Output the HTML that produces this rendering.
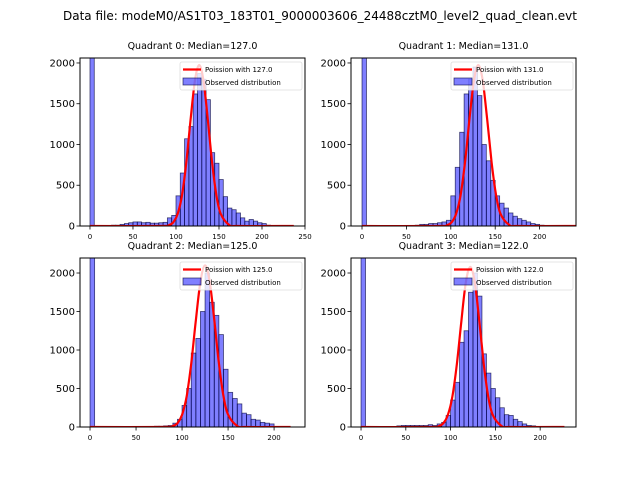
<!DOCTYPE html>
<html><head><meta charset="utf-8"><style>
body{margin:0;background:#fff}
svg text{font-family:"DejaVu Sans","Liberation Sans",sans-serif}
</style></head><body>
<svg id="fig" width="640" height="480" viewBox="0 0 640 480" xmlns="http://www.w3.org/2000/svg">
<rect width="640" height="480" fill="#fff"/>
<text x="320" y="20" font-size="12" text-anchor="middle">Data file: modeM0/AS1T03_183T01_9000003606_24488cztM0_level2_quad_clean.evt</text>
</svg>
<script>
// bin starts (width 5) and heights per quadrant
const binStarts = [0,5,10,15,20,25,30,35,40,45,50,55,60,65,70,75,80,85,90,95,100,105,110,115,120,125,130,135,140,145,150,155,160,165,170,175,180,185,190,195,200,205];
const q0Counts = [6000,0,0,0,0,10,10,20,30,40,50,50,40,45,35,35,40,45,100,130,370,650,1070,1220,1620,1870,1800,1550,900,770,570,360,220,200,160,100,60,80,60,40,30,10];
const q1Counts = [6000,0,0,0,0,0,0,0,0,0,0,0,10,20,20,30,30,40,50,70,370,720,1150,1620,1800,1950,1600,1000,800,560,370,280,220,160,120,90,70,50,30,20,10,0];
const q2Counts = [6000,0,0,0,0,0,0,0,0,0,0,0,0,0,10,10,15,20,50,100,280,500,960,1150,1500,2000,1620,1450,1200,750,450,370,300,180,160,100,90,60,50,40,0,0];
const q3Counts = [6000,0,0,0,0,0,0,0,15,20,20,20,20,20,20,30,20,40,60,150,350,580,1100,1250,1750,2000,1700,950,700,500,380,250,160,150,100,70,40,20,15,0,0,0];
// Poisson curve samples (x values and heights)
const q0CurveX = [0,82,92,97,102,107,112,117,122,127,132,137,142,147,152,162,172,237];
const q0CurveY = [0,0,12,47,150,377,780,1307,1781,1975,1781,1307,780,377,150,12,0,0];
const q1CurveX = [0,86,96,101,106,111,116,121,126,131,136,141,146,151,156,166,176,243];
const q1CurveY = [0,0,12,47,150,377,780,1307,1781,1975,1781,1307,780,377,150,12,0,0];
const q2CurveX = [0,80,90,95,100,105,110,115,120,125,130,135,140,145,150,160,170,218];
const q2CurveY = [0,0,13,50,160,400,830,1390,1890,2100,1890,1390,830,400,160,13,0,0];
const q3CurveX = [0,77,87,92,97,102,107,112,117,122,127,132,137,142,147,157,167,227];
const q3CurveY = [0,0,12,50,158,397,822,1377,1876,2080,1876,1377,822,397,158,12,0,0];
const xTicks0 = [0,50,100,150,200,250];
const xTicks = [0,50,100,150,200];
const yTicks = [0,500,1000,1500,2000];
const titles = ["Quadrant 0: Median=127.0","Quadrant 1: Median=131.0","Quadrant 2: Median=125.0","Quadrant 3: Median=122.0"];
const lambdas = ["127.0","131.0","125.0","122.0"];

const NS="http://www.w3.org/2000/svg";
const svg=document.getElementById('fig');
function mk(tag,attrs,parent){const e=document.createElementNS(NS,tag);for(const k in attrs)e.setAttribute(k,attrs[k]);(parent||svg).appendChild(e);return e;}
function smooth(P){
 let d='M'+P[0][0].toFixed(1)+','+P[0][1].toFixed(1);
 for(let i=0;i<P.length-1;i++){
  const p0=P[Math.max(0,i-1)],p1=P[i],p2=P[i+1],p3=P[Math.min(P.length-1,i+2)];
  const c1=[p1[0]+(p2[0]-p0[0])/6,p1[1]+(p2[1]-p0[1])/6];
  const c2=[p2[0]-(p3[0]-p1[0])/6,p2[1]-(p3[1]-p1[1])/6];
  d+=' C'+c1[0].toFixed(1)+','+c1[1].toFixed(1)+' '+c2[0].toFixed(1)+','+c2[1].toFixed(1)+' '+p2[0].toFixed(1)+','+p2[1].toFixed(1);
 }
 return d;
}

const panels=[
 {x0:80,x1:305,y0:58,y1:226,xmin:-11.6,xmax:250,ymax:2061,counts:q0Counts,cx:q0CurveX,cy:q0CurveY,xt:xTicks0},
 {x0:351,x1:576,y0:58,y1:226,xmin:-12.4,xmax:241,ymax:2061,counts:q1Counts,cx:q1CurveX,cy:q1CurveY,xt:xTicks},
 {x0:80,x1:305,y0:258,y1:427,xmin:-10.9,xmax:233.6,ymax:2195,counts:q2Counts,cx:q2CurveX,cy:q2CurveY,xt:xTicks},
 {x0:351,x1:576,y0:258,y1:427,xmin:-11.2,xmax:240,ymax:2195,counts:q3Counts,cx:q3CurveX,cy:q3CurveY,xt:xTicks}
];
panels.forEach((p,i)=>{
 const g=mk('g',{});
 
 
 const cid='clip'+i;
 const cp=mk('clipPath',{id:cid},g);mk('rect',{x:p.x0,y:p.y0,width:p.x1-p.x0,height:p.y1-p.y0},cp);
 const sx=v=>p.x0+(v-p.xmin)/(p.xmax-p.xmin)*(p.x1-p.x0);
 const sy=v=>p.y1-v/p.ymax*(p.y1-p.y0);
 const bars=mk('g',{'clip-path':'url(#'+cid+')'},g);
 binStarts.forEach((b,j)=>{
  const h=p.counts[j]; if(!h) return;
  const r=mk('rect',{x:sx(b),y:sy(h),width:sx(b+5)-sx(b),height:sy(0)-sy(h),fill:'rgba(0,0,255,0.5)',stroke:'rgba(0,0,60,0.7)','stroke-width':0.8},bars);
  
  
 });
 const P=p.cx.map((x,k)=>[sx(x),sy(p.cy[k])]);
 const pl=mk('path',{d:smooth(P),fill:'none',stroke:'#ff0000','stroke-width':2.2,'stroke-linejoin':'round','clip-path':'url(#'+cid+')'},g);
 
 
 const fr=mk('rect',{x:p.x0,y:p.y0,width:p.x1-p.x0,height:p.y1-p.y0,fill:'none',stroke:'#000','stroke-width':1},g);
 
 
 const t=mk('text',{x:(p.x0+p.x1)/2,y:p.y0-9,'font-size':9.5,'text-anchor':'middle'},g);t.textContent=titles[i];
 
 
 p.xt.forEach(v=>{
  const x=sx(v);mk('line',{x1:x,x2:x,y1:p.y1,y2:p.y1+3.5,stroke:'#000','stroke-width':0.8},g);
  const tt=mk('text',{x:x,y:p.y1+13,'font-size':7,'text-anchor':'middle'},g);tt.textContent=v;
  
  
 });
 yTicks.forEach(v=>{
  const y=sy(v);mk('line',{x1:p.x0-3.5,x2:p.x0,y1:y,y2:y,stroke:'#000','stroke-width':0.8},g);
  const tt=mk('text',{x:p.x0-5,y:y+3.5,'font-size':10,'text-anchor':'end'},g);tt.textContent=v;
  
  
 });
 const lx=p.x1-125,ly=p.y0+4;
 const lg=mk('g',{},g);
 
 
 mk('rect',{x:lx,y:ly,width:122,height:28,fill:'rgba(255,255,255,0.8)',stroke:'#ddd','stroke-width':0.8,rx:2},lg);
 mk('line',{x1:lx+3,x2:lx+21,y1:ly+7.5,y2:ly+7.5,stroke:'#f00','stroke-width':2.2},lg);
 const l1=mk('text',{x:lx+25,y:ly+10,'font-size':7},lg);l1.textContent='Poission with '+lambdas[i];
 
 
 mk('rect',{x:lx+3,y:ly+16,width:18,height:7,fill:'rgba(0,0,255,0.5)',stroke:'rgba(0,0,60,0.7)','stroke-width':0.8},lg);
 const l2=mk('text',{x:lx+25,y:ly+23,'font-size':7},lg);l2.textContent='Observed distribution';
 
 
});
</script>
</body></html>
